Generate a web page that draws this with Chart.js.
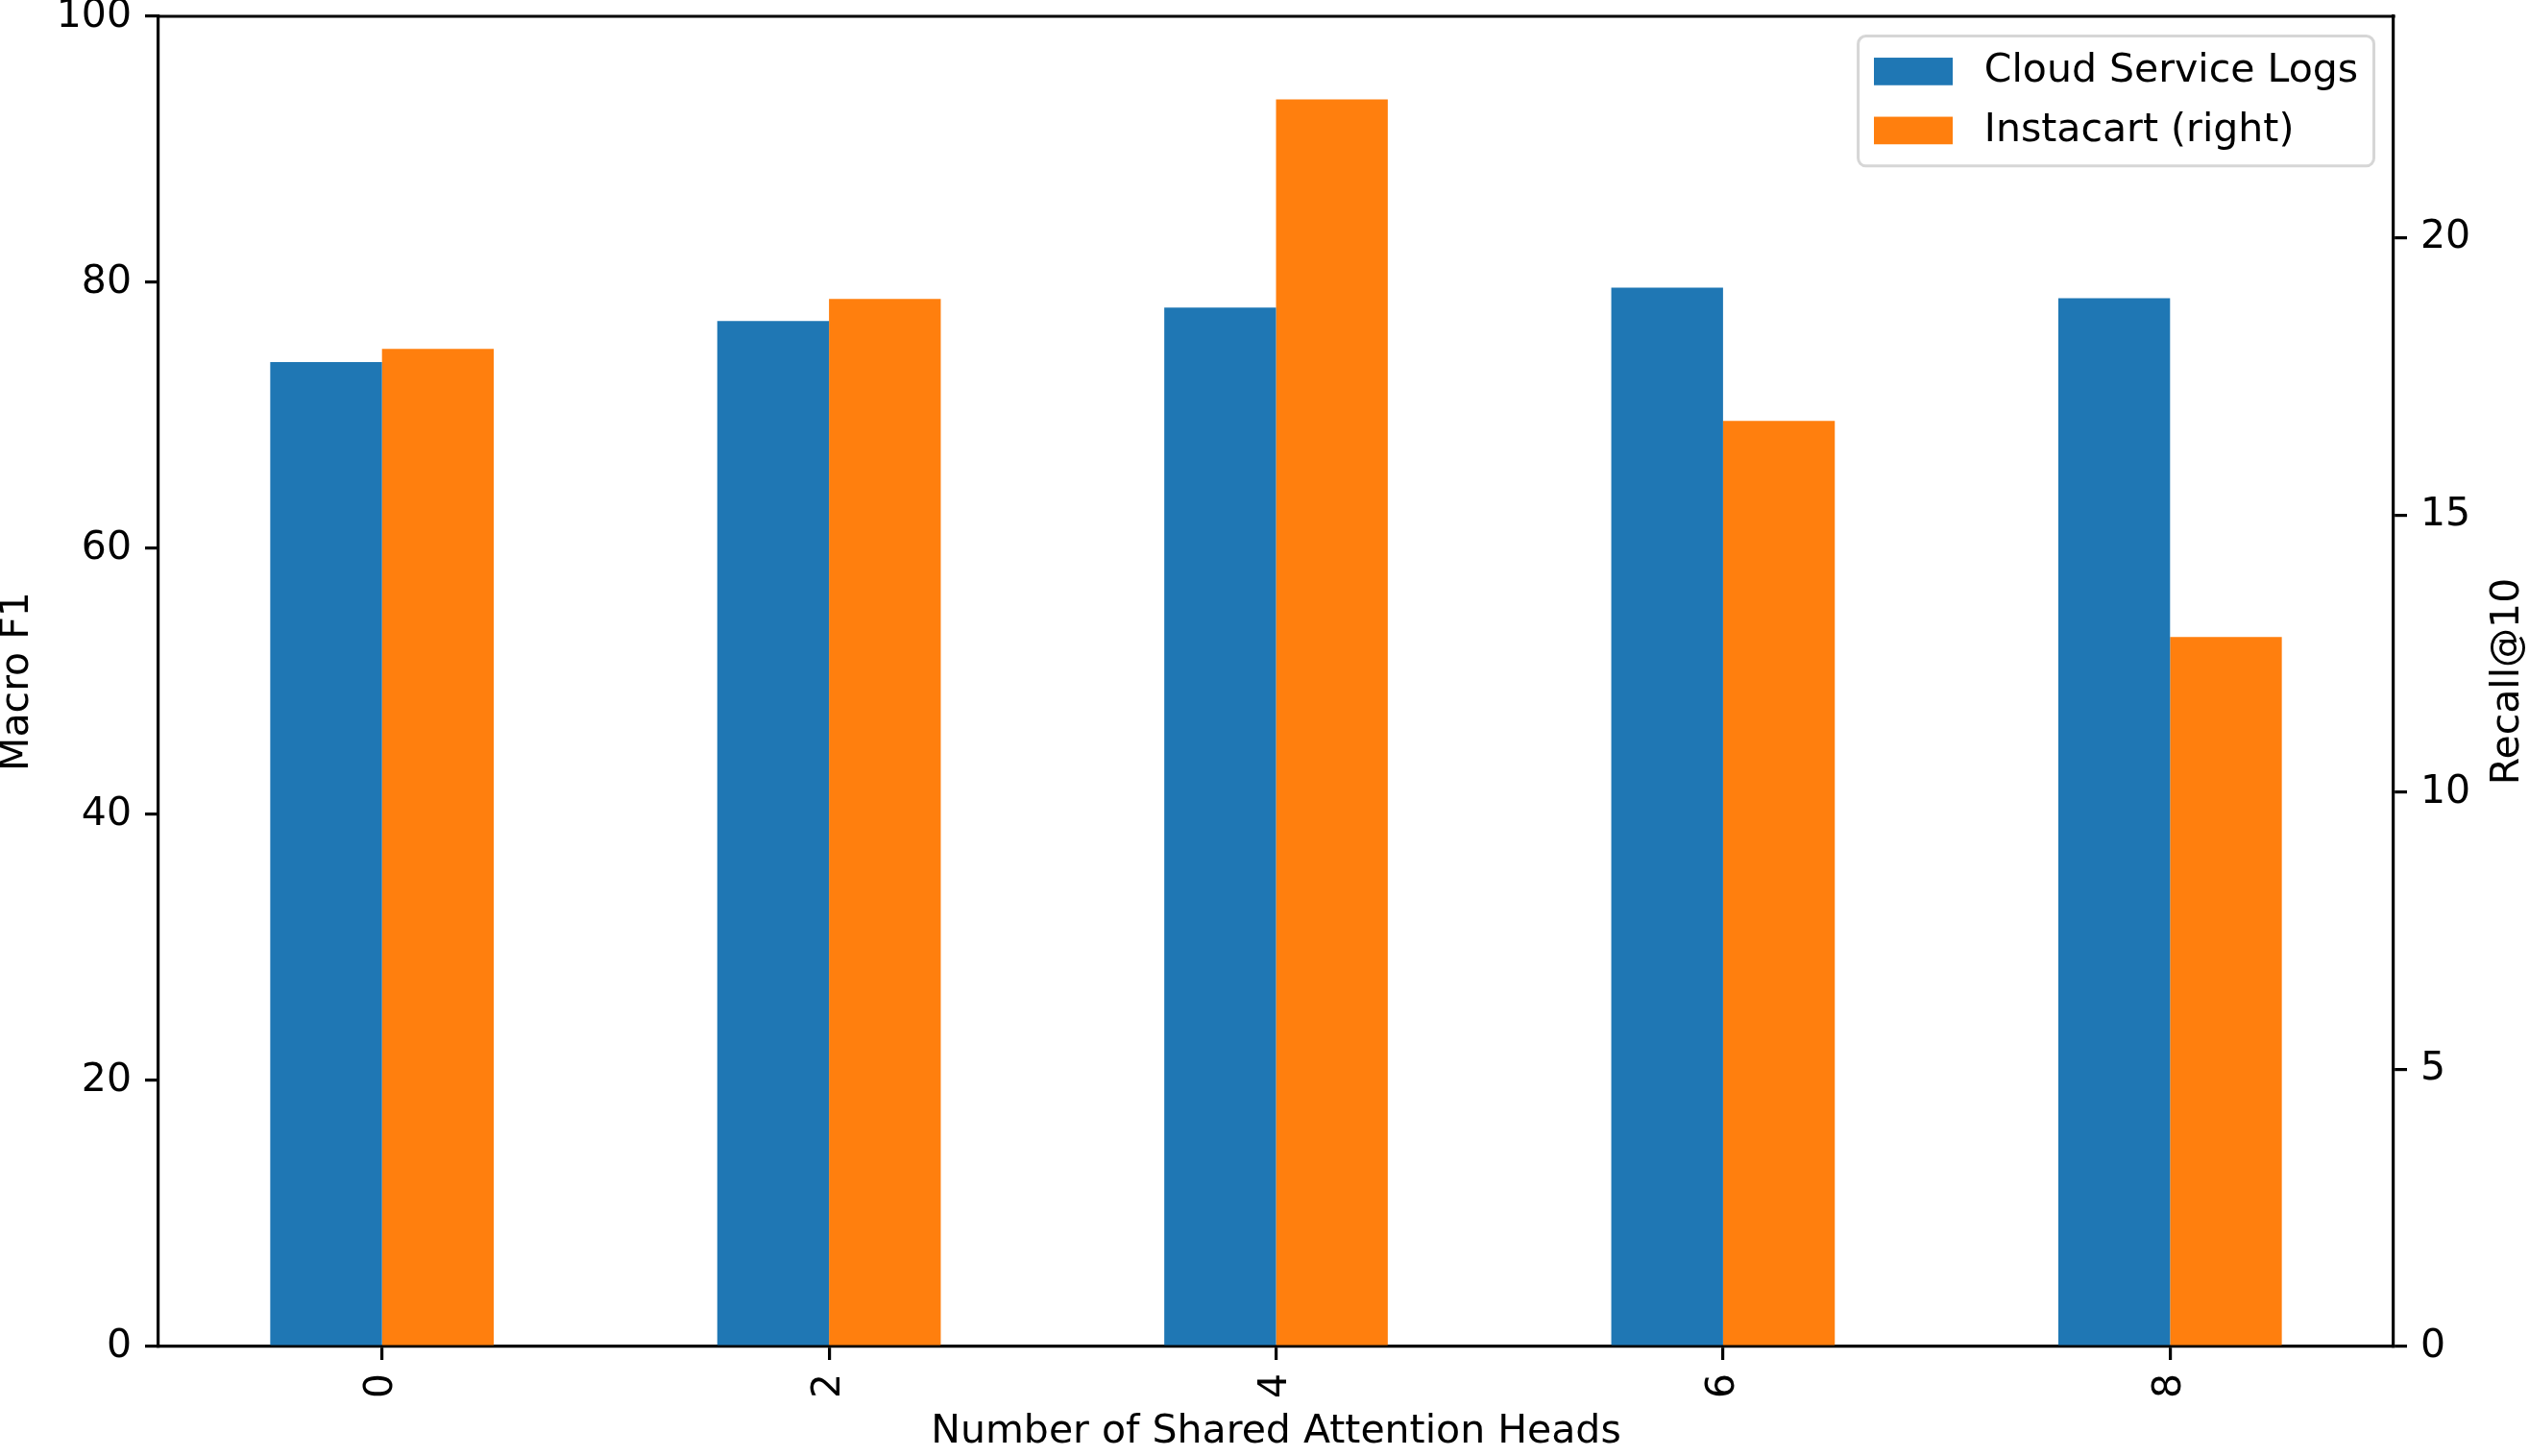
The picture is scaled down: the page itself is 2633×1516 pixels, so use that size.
<!DOCTYPE html>
<html>
<head>
<meta charset="utf-8">
<script src="https://cdn.jsdelivr.net/npm/chart.js@4.4.1/dist/chart.umd.min.js"></script>
<style>
    html, body { margin: 0; padding: 0; background: #ffffff; }
    canvas { display: block; }
</style>
</head>
<body>
<canvas id="chart" width="2633" height="1516" style="width:2633px;height:1516px"></canvas>
<script>
// Werte.
var headCounts = ['0', '2', '4', '6', '8'];
var cloudLogsF1 = [74.0, 77.1, 78.1, 79.6, 78.8];
var instacartRecall = [18.0, 18.9, 22.5, 16.7, 12.8];

var seriesNames = ['Cloud Service Logs', 'Instacart (right)'];
var seriesColors = ['#1f77b4', '#ff7f0e'];

var FONT = "'DejaVu Sans', 'Liberation Sans', sans-serif";
var FS = 41;

// Rahmen oben, rechter Achsentitel und Legende im Diagrammbereich.
var extrasPlugin = {
    id: 'extras',
    afterDraw: function (chart) {
        var ctx = chart.ctx;
        var area = chart.chartArea;

        ctx.save();
        ctx.strokeStyle = '#000000';
        ctx.lineWidth = 3.2;
        ctx.beginPath();
        ctx.moveTo(area.left - 1.6, area.top);
        ctx.lineTo(area.right + 1.6, area.top);
        ctx.stroke();

        // Rechter Achsentitel (von unten nach oben lesbar wie links).
        ctx.fillStyle = '#000000';
        ctx.font = FS + 'px ' + FONT;
        ctx.textAlign = 'center';
        ctx.textBaseline = 'middle';
        ctx.translate(2611, (area.top + area.bottom) / 2);
        ctx.rotate(-Math.PI / 2);
        ctx.fillText('Recall@10', 0, 0);
        ctx.restore();

        // Legende
        ctx.save();
        ctx.font = FS + 'px ' + FONT;
        var textW = 0;
        seriesNames.forEach(function (n) {
            textW = Math.max(textW, ctx.measureText(n).width);
        });
        var pad = 0.4 * FS, handleW = 2 * FS, handleH = 0.7 * FS, gap = 0.8 * FS, spacing = 0.5 * FS;
        var boxW = pad + handleW + gap + textW + pad;
        var boxH = pad + 2 * FS + spacing + pad;
        var boxX = area.right - 0.5 * FS - boxW;
        var boxY = area.top + 0.5 * FS;

        ctx.beginPath();
        if (ctx.roundRect) {
            ctx.roundRect(boxX, boxY, boxW, boxH, 8);
        } else {
            ctx.rect(boxX, boxY, boxW, boxH);
        }
        ctx.fillStyle = 'rgba(255,255,255,0.8)';
        ctx.fill();
        ctx.strokeStyle = '#d6d6d6';
        ctx.lineWidth = 3;
        ctx.stroke();

        seriesNames.forEach(function (n, i) {
            var cy = boxY + pad + FS / 2 + i * (FS + spacing);
            ctx.fillStyle = seriesColors[i];
            ctx.fillRect(boxX + pad, cy - handleH / 2, handleW, handleH);
            ctx.fillStyle = '#000000';
            ctx.textAlign = 'left';
            ctx.textBaseline = 'middle';
            ctx.fillText(n, boxX + pad + handleW + gap, cy);
        });
        ctx.restore();
    }
};

function fixSize(prop, value) {
    return function (scale) {
        scale[prop] = value;
        scale.paddingTop = 0;
        scale.paddingBottom = 0;
        scale.paddingLeft = 0;
        scale.paddingRight = 0;
    };
}

var axisGrid = {
    display: true,
    drawOnChartArea: false,
    drawTicks: true,
    tickLength: 14,
    color: '#000000',
    lineWidth: 3.2,
    offset: false,
};
var axisBorder = { display: true, color: '#000000', width: 3.2 };
var tickFont = { family: FONT, size: FS };

new Chart(document.getElementById('chart').getContext('2d'), {
    type: 'bar',
    data: {
        labels: headCounts,
        datasets: [
            {
                label: seriesNames[0],
                data: cloudLogsF1,
                backgroundColor: seriesColors[0],
                borderWidth: 0,
                yAxisID: 'y',
                categoryPercentage: 0.5,
                barPercentage: 1.0,
            },
            {
                label: seriesNames[1],
                data: instacartRecall,
                backgroundColor: seriesColors[1],
                borderWidth: 0,
                yAxisID: 'y1',
                categoryPercentage: 0.5,
                barPercentage: 1.0,
            },
        ],
    },
    options: {
        responsive: false,
        maintainAspectRatio: false,
        devicePixelRatio: 1,
        animation: false,
        layout: { padding: { top: 17, left: 0, right: 0, bottom: 0 } },
        plugins: {
            legend: { display: false },
            tooltip: { enabled: false },
        },
        scales: {
            x: {
                type: 'category',
                offset: true,
                grid: axisGrid,
                border: axisBorder,
                ticks: {
                    color: '#000000',
                    font: tickFont,
                    minRotation: 90,
                    maxRotation: 90,
                    padding: 14,
                },
                title: {
                    display: true,
                    text: 'Number of Shared Attention Heads',
                    color: '#000000',
                    font: { family: FONT, size: FS },
                    padding: 0,
                },
                afterFit: fixSize('height', 114),
            },
            y: {
                position: 'left',
                min: 0,
                max: 100,
                grid: axisGrid,
                border: axisBorder,
                ticks: {
                    stepSize: 20,
                    includeBounds: false,
                    color: '#000000',
                    font: tickFont,
                    padding: 14,
                },
                title: {
                    display: true,
                    text: 'Macro F1',
                    color: '#000000',
                    font: { family: FONT, size: FS, lineHeight: 0.9 },
                    padding: 0,
                },
                afterFit: fixSize('width', 165),
            },
            y1: {
                position: 'right',
                min: 0,
                max: 24,
                grid: axisGrid,
                border: axisBorder,
                ticks: {
                    stepSize: 5,
                    includeBounds: false,
                    color: '#000000',
                    font: tickFont,
                    padding: 14,
                },
                afterFit: fixSize('width', 141),
            },
        },
    },
    plugins: [extrasPlugin],
});
</script>
</body>
</html>
